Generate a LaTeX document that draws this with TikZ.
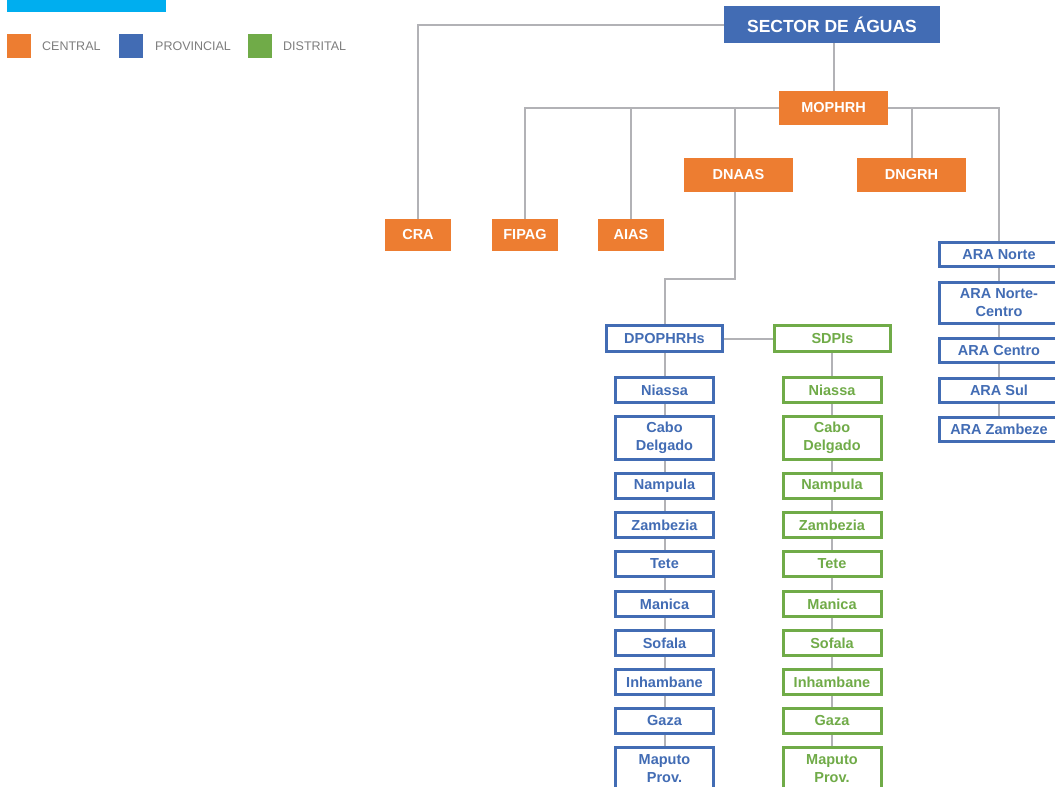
\documentclass[tikz,border=0pt]{standalone}
\usepackage{fontspec}
\setmainfont{Liberation Sans}
\definecolor{corange}{RGB}{237,125,49}
\definecolor{cblue}{RGB}{66,108,180}
\definecolor{cgreen}{RGB}{112,171,72}
\definecolor{cline}{RGB}{178,178,182}
\definecolor{ccyan}{RGB}{0,174,239}
\definecolor{clegend}{RGB}{125,125,125}
\begin{document}
\begin{tikzpicture}[x=1pt,y=-1pt,
  filled/.style={fill=#1,text=white,inner sep=0pt,font=\bfseries\fontsize{14.5}{17}\selectfont,align=center},
  orangebox/.style={filled=corange,minimum width=109pt,minimum height=34pt},
  smallorange/.style={filled=corange,minimum width=66pt,minimum height=32pt},
  outlined/.style={draw=#1,line width=3pt,fill=white,text=#1,inner sep=0pt,minimum width=98pt,minimum height=25pt,font=\bfseries\fontsize{14.5}{18}\selectfont,align=center},
  pbox/.style={outlined=cblue},
  dbox/.style={outlined=cgreen},
  tall/.style={minimum height=43pt},
  arabox/.style={outlined=cblue,minimum width=119pt,minimum height=24pt},
  conn/.style={draw=cline,line width=2pt},
  legsq/.style={minimum size=24pt,inner sep=0pt},
  legtxt/.style={anchor=west,text=clegend,inner sep=0pt,font=\fontsize{12.5}{14}\selectfont}
]
\useasboundingbox (0,0) rectangle (1055,787);
% top bar and legend
\fill[ccyan] (7,-1) rectangle (166,12);
\node[legsq,fill=corange] (lc) at (19,46) {};
\node[legtxt] (lct) at (42,46.5) {CENTRAL};
\node[legsq,fill=cblue] (lp) at (131,46) {};
\node[legtxt] (lpt) at (155,46.5) {PROVINCIAL};
\node[legsq,fill=cgreen] (ld) at (260,46) {};
\node[legtxt] (ldt) at (283,46.5) {DISTRITAL};

% central
\node[filled=cblue,minimum width=216pt,minimum height=37pt,font=\bfseries\fontsize{17.5}{20}\selectfont] (sector) at (832,24.5) {SECTOR DE ÁGUAS};
\node[orangebox] (moph) at (833.5,107.7) {MOPHRH};
\node[orangebox] (dnaas) at (738.5,175) {DNAAS};
\node[orangebox] (dngrh) at (911.5,175) {DNGRH};
\node[smallorange] (cra) at (418,235) {CRA};
\node[smallorange] (fipag) at (525,235) {FIPAG};
\node[smallorange] (aias) at (631,235) {AIAS};

% ARA
\node[arabox] (ara1) at (999,254.5) {ARA Norte};
\node[arabox,minimum height=41pt] (ara2) at (999,303) {ARA Norte-\\Centro};
\node[arabox] (ara3) at (999,350.5) {ARA Centro};
\node[arabox] (ara4) at (999,390.5) {ARA Sul};
\node[arabox] (ara5) at (999,429.5) {ARA Zambeze};

% provincial / district heads
\node[pbox,minimum width=116pt,minimum height=26pt] (dpo) at (664.5,338.5) {DPOPHRHs};
\node[dbox,minimum width=116pt,minimum height=26pt] (sdp) at (832.5,338.5) {SDPIs};

% columns
\foreach \nm/\txt/\yy/\st in {1/Niassa/390/,2/Cabo\\Delgado/438/tall,3/Nampula/486/,4/Zambezia/525/,5/Tete/564/,6/Manica/604/,7/Sofala/643/,8/Inhambane/682/,9/Gaza/721/,10/Maputo\\Prov./769/tall}{
  \node[pbox,\st] (p\nm) at (664.5,\yy) {\txt};
  \node[dbox,\st] (d\nm) at (832,\yy) {\txt};
}

% connectors
\coordinate (dx) at (735,0);
\coordinate (bend) at (735,279);
\draw[conn] (sector.west) -| (cra.north);
\draw[conn] (sector.south -| moph.north) -- (moph.north);
\draw[conn] (moph.west) -| (fipag.north);
\draw[conn] (moph.west -| aias.north) -- (aias.north);
\draw[conn] (moph.west -| dx) -- (dnaas.north -| dx);
\draw[conn] (moph.east) -| (ara1.north);
\draw[conn] (moph.east -| dngrh.north) -- (dngrh.north);
\draw[conn] (dnaas.south -| dx) -- (bend) -| (dpo.north);
\draw[conn] (dpo.east) -- (sdp.west);
\draw[conn] (dpo.south) -- (p1.north);
\draw[conn] (sdp.south -| d1.north) -- (d1.north);
\foreach \a/\b in {1/2,2/3,3/4,4/5,5/6,6/7,7/8,8/9,9/10}{
  \draw[conn] (p\a.south) -- (p\b.north);
  \draw[conn] (d\a.south) -- (d\b.north);
}
\foreach \a/\b in {1/2,2/3,3/4,4/5}{
  \draw[conn] (ara\a.south) -- (ara\b.north);
}
\end{tikzpicture}
\end{document}
